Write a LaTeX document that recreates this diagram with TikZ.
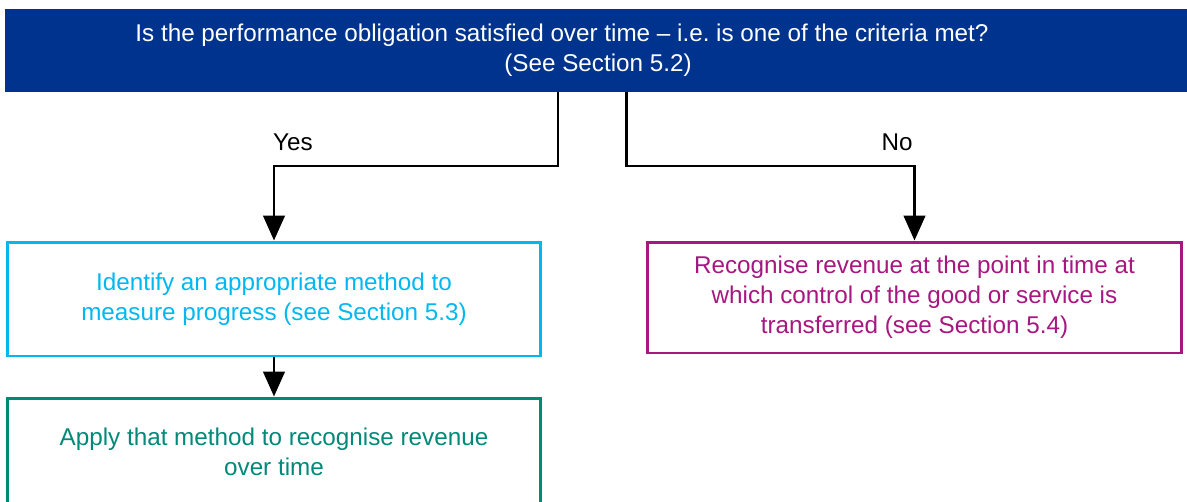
\documentclass[tikz,border=0pt]{standalone}
\usepackage{fontspec}
\setmainfont{Liberation Sans}
\usetikzlibrary{arrows.meta}
\definecolor{obdark}{RGB}{0,51,141}
\definecolor{obcyan}{RGB}{0,184,240}
\definecolor{obpink}{RGB}{168,22,128}
\definecolor{obteal}{RGB}{0,137,120}
\begin{document}
\begin{tikzpicture}[x=0.02cm,y=-0.02cm,
    box/.style={draw,line width=1.7pt,minimum width=10.68cm,align=center,inner sep=0pt,
      font=\fontsize{13.8}{17}\selectfont},
    conn/.style={line width=1.7pt,-{Triangle[width=0.43cm,length=0.5cm]}}]
  \useasboundingbox (0,0) rectangle (1187,501);
  \node [fill=obdark,text=white,minimum width=23.74cm,minimum height=1.66cm,align=center,
    font=\fontsize{13.8}{17}\selectfont] (crit) at (598,50.5)
    {Is the performance obligation satisfied over time -- i.e.\ is one of the criteria met?\hspace*{1.44cm}\\(See Section 5.2)};
  \node [box,draw=obcyan,text=obcyan,minimum height=2.28cm] (ident) at (274,299)
    {Identify an appropriate method to\\measure progress (see Section 5.3)};
  \node [box,draw=obpink,text=obpink,minimum width=10.7cm,minimum height=2.22cm] (point) at (914.5,297.5)
    {Recognise revenue at the point in time at\\which control of the good or service is\\transferred (see Section 5.4)};
  \node [box,draw=obteal,text=obteal,minimum height=2.16cm] (apply) at (274,452)
    {Apply that method to recognise revenue\\over time};
  \coordinate (yesout) at (558,92);
  \coordinate (noout) at (626,92);
  \draw [conn] (yesout) -- ++(0,74) -| (ident.north);
  \draw [conn] (noout) -- ++(0,74) -| (point.north);
  \draw [conn] (ident.south) -- (apply.north);
  \node [font=\fontsize{13.8}{16}\selectfont] (yes) at (293,142) {Yes};
  \node [font=\fontsize{13.8}{16}\selectfont] (no) at (897,142) {No};
\end{tikzpicture}
\end{document}
